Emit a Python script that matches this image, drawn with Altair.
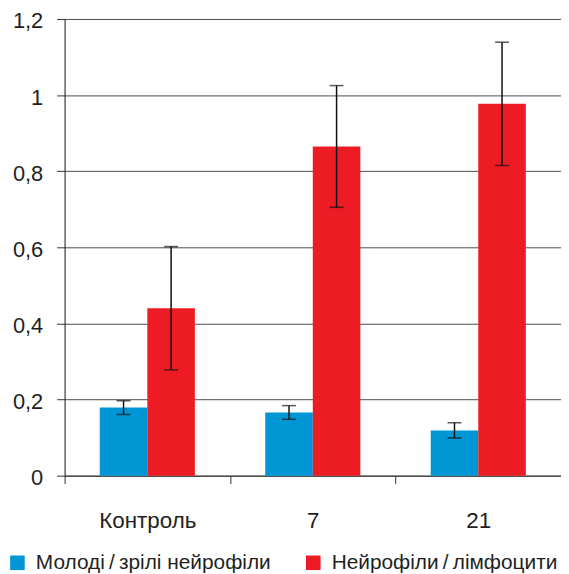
import altair as alt
import pandas as pd

categories = ["Контроль", "7", "21"]
series_names = ["Молоді\u2009/\u2009зрілі нейрофіли", "Нейрофіли\u2009/\u2009лімфоцити"]
young_mature = [0.179, 0.166, 0.119]
young_mature_err = [0.018, 0.018, 0.02]
neut_lymph = [0.44, 0.865, 0.977]
neut_lymph_err = [0.162, 0.16, 0.162]

rows = []
for i, c in enumerate(categories):
    rows.append({"cat": c, "series": series_names[0], "value": young_mature[i],
                 "lo": young_mature[i] - young_mature_err[i], "hi": young_mature[i] + young_mature_err[i]})
    rows.append({"cat": c, "series": series_names[1], "value": neut_lymph[i],
                 "lo": neut_lymph[i] - neut_lymph_err[i], "hi": neut_lymph[i] + neut_lymph_err[i]})
df = pd.DataFrame(rows)

FONT = "Liberation Sans"
TXT = "#231f20"
colors = ["#0096D6", "#ED1C24"]

x = alt.X("cat:N", sort=categories, title=None,
          scale=alt.Scale(paddingInner=0, paddingOuter=0),
          axis=alt.Axis(labelAngle=0, tickBand="extent", tickSize=8, tickColor="#333333",
                        domainColor="#333333", labelFontSize=22.5, labelFont=FONT,
                        labelColor=TXT, labelPadding=26, grid=False))
xoff = alt.XOffset("series:N", sort=series_names,
                   scale=alt.Scale(paddingInner=0, paddingOuter=0.74))

bars = alt.Chart(df).mark_bar().encode(
    x=x,
    xOffset=xoff,
    y=alt.Y("value:Q", title=None,
            scale=alt.Scale(domain=[0, 1.2], nice=False),
            axis=alt.Axis(values=[0, 0.2, 0.4, 0.6, 0.8, 1.0, 1.2], format=".1~f",
                          labelExpr="replace(datum.label, '.', ',')",
                          tickSize=8, tickColor="#333333", domainColor=TXT,
                          gridColor="#4d4d4d", gridWidth=1, labelFontSize=22,
                          labelFont=FONT, labelColor=TXT, labelPadding=14, labelOffset=2)),
    color=alt.Color("series:N", sort=series_names,
                    scale=alt.Scale(domain=series_names, range=colors),
                    legend=alt.Legend(title=None, orient="none", direction="horizontal",
                                      legendX=-58, legendY=537, symbolType="square",
                                      symbolSize=215, symbolStrokeWidth=0, labelFontSize=21,
                                      labelFont=FONT, labelColor=TXT, labelLimit=400,
                                      columnPadding=32, symbolOffset=0, labelOffset=8)),
)

err = alt.Chart(df).mark_rule(color="#111111", strokeWidth=1.5).encode(
    x=alt.X("cat:N", sort=categories),
    xOffset=alt.XOffset("series:N", sort=series_names),
    y="lo:Q",
    y2="hi:Q",
)
cap_lo = alt.Chart(df).mark_tick(color="#111111", size=14, thickness=1.5).encode(
    x=alt.X("cat:N", sort=categories),
    xOffset=alt.XOffset("series:N", sort=series_names),
    y="lo:Q",
)
cap_hi = alt.Chart(df).mark_tick(color="#111111", size=14, thickness=1.5).encode(
    x=alt.X("cat:N", sort=categories),
    xOffset=alt.XOffset("series:N", sort=series_names),
    y="hi:Q",
)

chart = alt.layer(bars, err, cap_lo, cap_hi).properties(
    width=500, height=460,
    autosize=alt.AutoSizeParams(type="none"),
    padding={"left": 57, "top": 9, "right": 0, "bottom": 97},
).configure_view(stroke=None).configure(background="white")

chart.save("out.html", embed_options={"renderer": "svg", "actions": False})
